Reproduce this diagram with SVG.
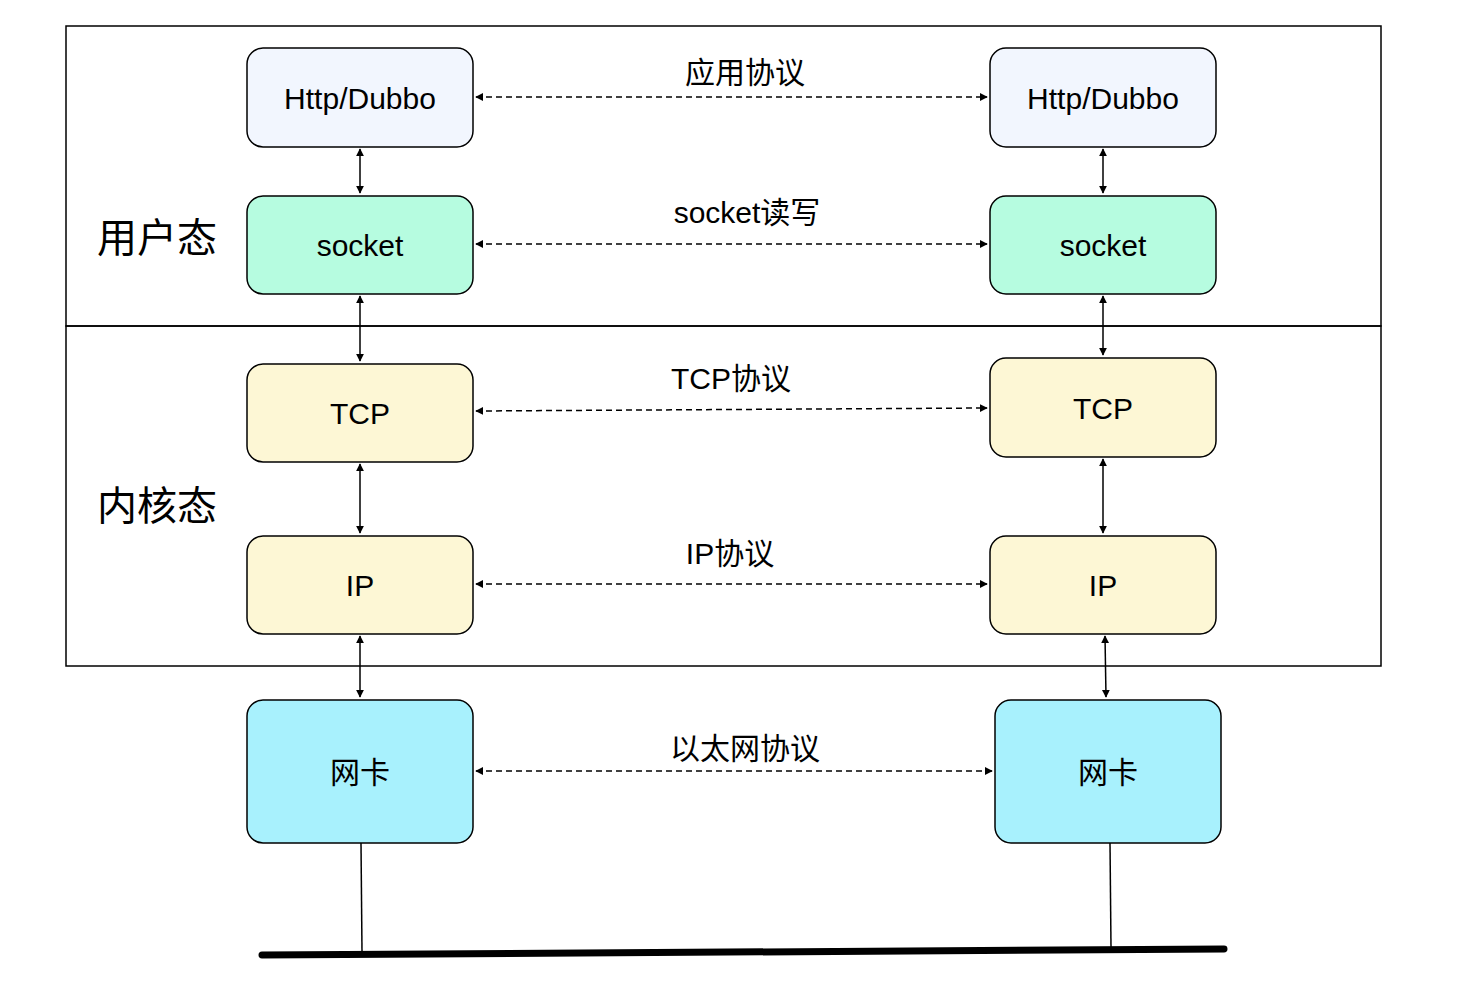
<svg xmlns="http://www.w3.org/2000/svg" width="1470" height="992" viewBox="0 0 1470 992">
<defs>
<marker id="a" viewBox="0 0 10 10" refX="9" refY="5" markerWidth="8" markerHeight="8" markerUnits="userSpaceOnUse" orient="auto-start-reverse"><path d="M0,0L10,5L0,10z" fill="#000"/></marker>
<style>
.n{stroke:#000;stroke-width:1.5}
.t{font-family:"Liberation Sans","Noto Sans CJK SC",sans-serif;font-size:30px;text-anchor:middle;dominant-baseline:central;fill:#000}
.l{font-family:"Liberation Sans","Noto Sans CJK SC",sans-serif;font-size:30px;text-anchor:middle;fill:#000}
.d{stroke:#000;stroke-width:1.5;stroke-dasharray:6 4;fill:none;marker-start:url(#a);marker-end:url(#a)}
.s{stroke:#000;stroke-width:1.5;fill:none;marker-start:url(#a);marker-end:url(#a)}
</style>
</defs>
<rect width="1470" height="992" fill="#fff"/>
<g id="zones" fill="none" stroke="#000" stroke-width="1.5">
<rect x="66" y="26" width="1315" height="300"/>
<rect x="66" y="326" width="1315" height="340"/>
</g>
<text class="l" x="157" y="252" font-size="40" style="font-size:40px">用户态</text>
<text class="l" x="157" y="520" style="font-size:40px">内核态</text>
<g id="http1"><rect class="n" x="247" y="48" width="226" height="99" rx="16" fill="#f2f6fe"/><text class="t" x="360" y="98">Http/Dubbo</text></g>
<g id="http2"><rect class="n" x="990" y="48" width="226" height="99" rx="16" fill="#f2f6fe"/><text class="t" x="1103" y="98">Http/Dubbo</text></g>
<g id="sock1"><rect class="n" x="247" y="196" width="226" height="98" rx="16" fill="#b6fce0"/><text class="t" x="360" y="245">socket</text></g>
<g id="sock2"><rect class="n" x="990" y="196" width="226" height="98" rx="16" fill="#b6fce0"/><text class="t" x="1103" y="245">socket</text></g>
<g id="tcp1"><rect class="n" x="247" y="364" width="226" height="98" rx="16" fill="#fdf7d5"/><text class="t" x="360" y="413">TCP</text></g>
<g id="tcp2"><rect class="n" x="990" y="358" width="226" height="99" rx="16" fill="#fdf7d5"/><text class="t" x="1103" y="408">TCP</text></g>
<g id="ip1"><rect class="n" x="247" y="536" width="226" height="98" rx="16" fill="#fdf7d5"/><text class="t" x="360" y="585">IP</text></g>
<g id="ip2"><rect class="n" x="990" y="536" width="226" height="98" rx="16" fill="#fdf7d5"/><text class="t" x="1103" y="585">IP</text></g>
<g id="nic1"><rect class="n" x="247" y="700" width="226" height="143" rx="16" fill="#a8f1fd"/><text class="t" x="360" y="772">网卡</text></g>
<g id="nic2"><rect class="n" x="995" y="700" width="226" height="143" rx="16" fill="#a8f1fd"/><text class="t" x="1108" y="772">网卡</text></g>
<g id="connectors">
<line class="d" x1="476" y1="97" x2="987" y2="97"/>
<line class="d" x1="476" y1="244" x2="987" y2="244"/>
<line class="d" x1="476" y1="411" x2="987" y2="408"/>
<line class="d" x1="476" y1="584" x2="987" y2="584"/>
<line class="d" x1="476" y1="771" x2="992" y2="771"/>
<line class="s" x1="360" y1="149" x2="360" y2="193"/>
<line class="s" x1="1103" y1="149" x2="1103" y2="193"/>
<line class="s" x1="360" y1="296" x2="360" y2="361"/>
<line class="s" x1="1103" y1="296" x2="1103" y2="355"/>
<line class="s" x1="360" y1="464" x2="360" y2="533"/>
<line class="s" x1="1103" y1="459" x2="1103" y2="533"/>
<line class="s" x1="360" y1="636" x2="360" y2="697"/>
<line class="s" x1="1105" y1="636" x2="1106" y2="697"/>
<line x1="361" y1="843" x2="362" y2="952" stroke="#000" stroke-width="1.5"/>
<line x1="1110" y1="843" x2="1111" y2="948" stroke="#000" stroke-width="1.5"/>
<line x1="262" y1="955" x2="1224" y2="949" stroke="#000" stroke-width="7" stroke-linecap="round"/>
</g>
<g id="labels">
<text class="l" x="745" y="83">应用协议</text>
<text class="l" x="747" y="223">socket读写</text>
<text class="l" x="731" y="389">TCP协议</text>
<text class="l" x="730" y="564">IP协议</text>
<text class="l" x="745" y="759">以太网协议</text>
</g>
</svg>
